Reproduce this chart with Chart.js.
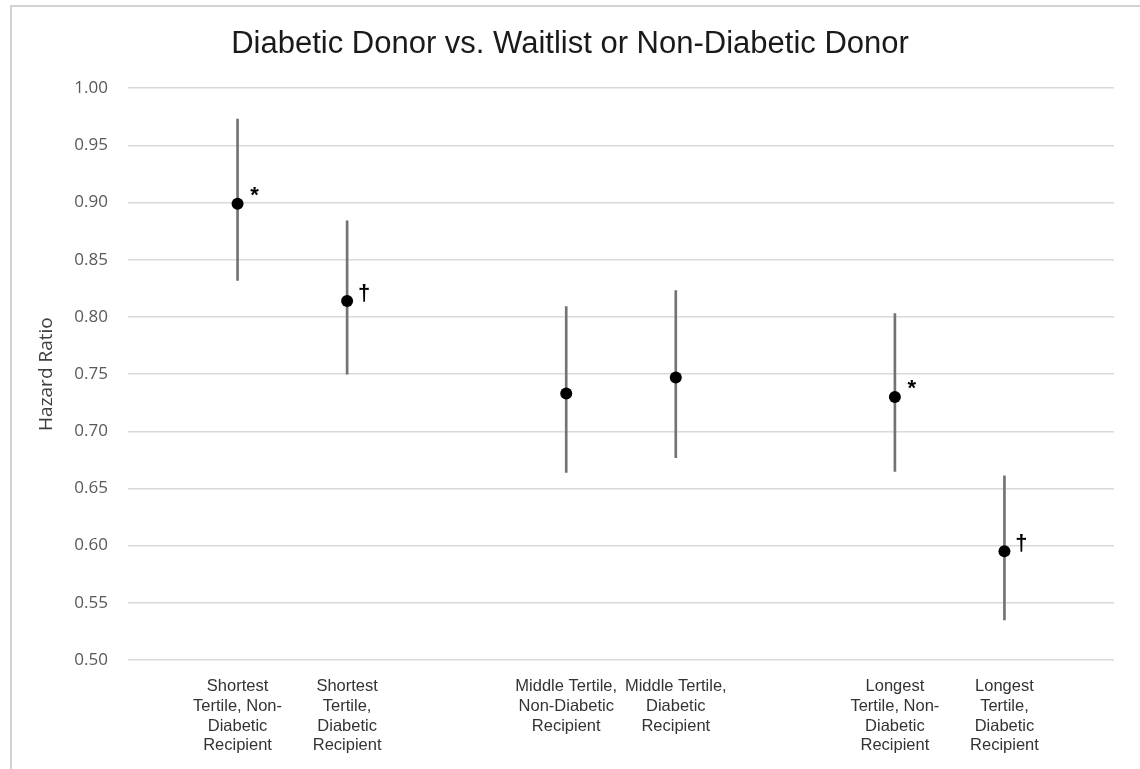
<!DOCTYPE html>
<html>
<head>
  <meta charset="UTF-8">
  <title>Diabetic Donor vs. Waitlist or Non-Diabetic Donor</title>
  <style>
    body { margin: 0; background: #fff; }
    #wrap { position: relative; width: 1140px; height: 769px; overflow: hidden; }
    #frame { position: absolute; left: 10px; top: 5px; right: -5px; bottom: -5px;
             border-left: 2px solid #d2d2d2; border-top: 2px solid #d2d2d2; }
    canvas { position: absolute; left: 0; top: 0; }
  </style>
</head>
<body>
<div id="wrap">
  <div id="frame"></div>
  <canvas id="myChart" width="1140" height="769"></canvas>
</div>
<script src="https://cdn.jsdelivr.net/npm/chart.js"></script>
<script>
// blank slots at 0, 3, 6, 9 keep the gaps between tertile groups
const labels = [
  '',
  ['Shortest', 'Tertile, Non-', 'Diabetic', 'Recipient'],
  ['Shortest', 'Tertile,', 'Diabetic', 'Recipient'],
  '',
  ['Middle Tertile,', 'Non-Diabetic', 'Recipient'],
  ['Middle Tertile,', 'Diabetic', 'Recipient'],
  '',
  ['Longest', 'Tertile, Non-', 'Diabetic', 'Recipient'],
  ['Longest', 'Tertile,', 'Diabetic', 'Recipient'],
  ''
];
const hr    = [null, 0.899, 0.814, null, 0.733, 0.747, null, 0.730, 0.595, null];
const lower = [null, 0.832, 0.750, null, 0.664, 0.677, null, 0.665, 0.535, null];
const upper = [null, 0.973, 0.884, null, 0.809, 0.823, null, 0.803, 0.661, null];
const marks = ['', '*', '†', '', '', '', '', '*', '†', ''];

const ciData = hr.map((v, i) => v == null ? null : [lower[i], upper[i]]);

const markPlugin = {
  id: 'marks',
  afterDatasetsDraw(chart) {
    const ctx = chart.ctx, xs = chart.scales.x, ys = chart.scales.y;
    ctx.save();
    ctx.fillStyle = '#000';
    ctx.font = 'bold 22px "Liberation Sans"';
    ctx.textAlign = 'center';
    ctx.textBaseline = 'middle';
    marks.forEach((m, i) => {
      if (!m) return;
      const px = xs.getPixelForValue(i);
      const py = ys.getPixelForValue(hr[i]);
      ctx.fillText(m, px + 17, py + (m === '*' ? -8 : -7));
    });
    ctx.restore();
  }
};

const config = {
  type: 'bar',
  data: {
    labels: labels,
    datasets: [{
      type: 'line',
      data: hr,
      showLine: false,
      pointRadius: 6,
      pointBackgroundColor: '#000',
      pointBorderWidth: 0,
      order: 0
    }, {
      data: ciData,
      backgroundColor: '#737373',
      borderWidth: 0,
      barThickness: 2,
      order: 1
    }]
  },
  options: {
    responsive: false,
    animation: false,
    layout: { padding: 0 },
    plugins: {
      legend: { display: false },
      tooltip: { enabled: false },
      title: {
        display: true,
        text: 'Diabetic Donor vs. Waitlist or Non-Diabetic Donor',
        color: '#1a1a1a',
        font: { family: '"Liberation Sans"', size: 31, weight: 'normal', lineHeight: 1.2 },
        padding: { top: 26, bottom: 25 }
      }
    },
    scales: {
      x: {
        offset: false,
        grid: { display: false },
        border: { display: false },
        ticks: {
          autoSkip: false,
          maxRotation: 0,
          padding: 9,
          color: '#333',
          font: { family: '"Liberation Sans"', size: 16.5, lineHeight: 1.19 }
        },
        afterFit: s => { s.height = 109; }
      },
      y: {
        min: 0.5,
        max: 1.0,
        border: { display: false },
        grid: { color: '#d9d9d9', lineWidth: 1.5, drawTicks: false },
        ticks: {
          stepSize: 0.05,
          padding: 20,
          color: '#595959',
          font: { family: '"Open Sans"', size: 17 },
          callback: v => v.toFixed(2)
        },
        title: {
          display: true,
          text: 'Hazard Ratio',
          color: '#404040',
          font: { family: '"Open Sans"', size: 19, lineHeight: 1.2 },
          padding: { top: 35, bottom: 0 }
        },
        afterFit: s => { s.width = 128; }
      },
      y2: {
        position: 'right',
        grid: { display: false },
        border: { display: false },
        ticks: { display: false },
        afterFit: s => { s.width = 26; }
      }
    }
  },
  plugins: [markPlugin]
};

const myChart = new Chart(document.getElementById('myChart'), config);
</script>
</body>
</html>
